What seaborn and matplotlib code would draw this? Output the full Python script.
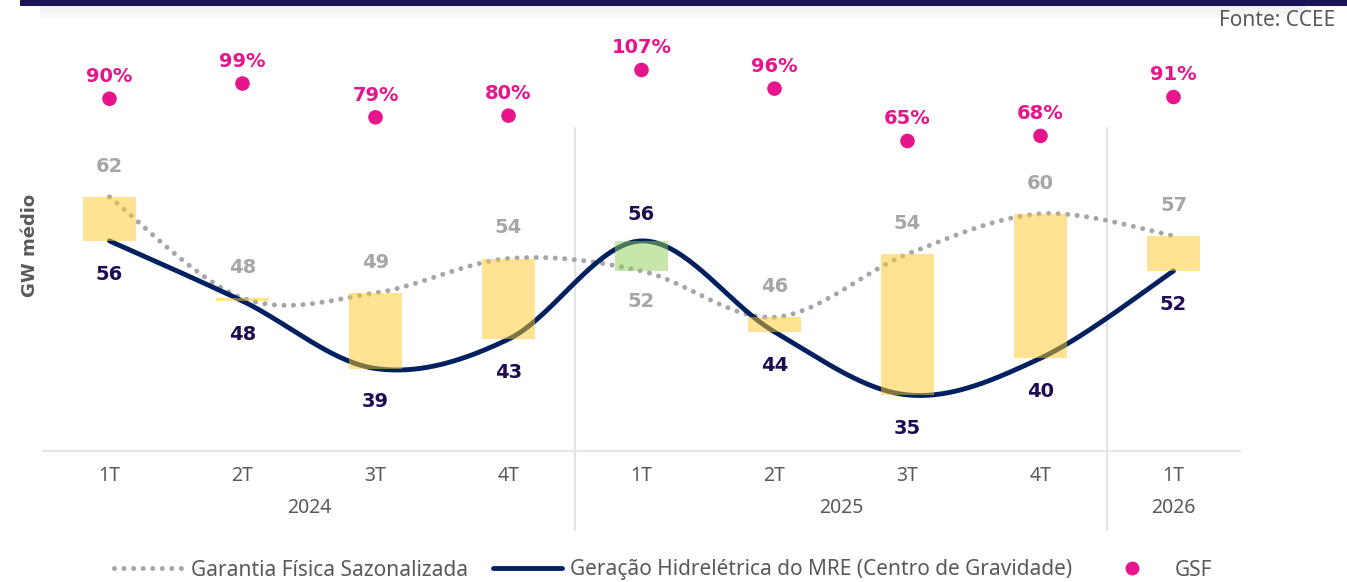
import numpy as np
import pandas as pd
import matplotlib
matplotlib.use("Agg")
import matplotlib.pyplot as plt
import seaborn as sns
from matplotlib.lines import Line2D
from matplotlib.patches import Rectangle
import matplotlib.transforms as mtransforms

# === Données ===
trimestres = ["1T", "2T", "3T", "4T", "1T", "2T", "3T", "4T", "1T"]
anos = ["2024", "2025", "2026"]
garantia = [62.0, 48.2, 48.9, 53.6, 51.9, 45.6, 54.2, 59.7, 56.7]
geracao = [56.0, 47.8, 38.6, 42.6, 56.0, 43.6, 35.0, 40.0, 51.9]
gsf = [90, 99, 79, 80, 107, 96, 65, 68, 91]

df = pd.DataFrame({"x": range(len(trimestres)), "trimestre": trimestres,
                   "garantia": garantia, "geracao": geracao, "gsf": gsf})

CINZA = "#a6a6a6"
AZUL = "#002060"
ROXO = "#1e0b52"
MAGENTA = "#e6158c"
TEXTO = "#595959"


def suaviza(xs, ys, n=40):
    # courbe lissée façon Excel (Catmull-Rom uniforme)
    xs = np.asarray(xs, float)
    ys = np.asarray(ys, float)
    px = np.concatenate([[xs[0]], xs, [xs[-1]]])
    py = np.concatenate([[ys[0]], ys, [ys[-1]]])
    out_x, out_y = [], []
    t = np.linspace(0, 1, n)
    for i in range(1, len(px) - 2):
        for p, out in ((px, out_x), (py, out_y)):
            p0, p1, p2, p3 = p[i - 1], p[i], p[i + 1], p[i + 2]
            c = 0.5 * (2 * p1 + (-p0 + p2) * t + (2 * p0 - 5 * p1 + 4 * p2 - p3) * t ** 2
                       + (-p0 + 3 * p1 - 3 * p2 + p3) * t ** 3)
            out.extend(c)
    return pd.DataFrame({"x": out_x, "y": out_y})


sns.set_theme(style="white")
plt.rcParams["font.family"] = ["Noto Sans", "DejaVu Sans"]

fig = plt.figure(figsize=(13.47, 5.82), dpi=100)
ax = fig.add_axes([43 / 1347, 131 / 582, 1197 / 1347, 411 / 582])

# lignes lissées
cg = suaviza(df["x"], df["garantia"])
cm = suaviza(df["x"], df["geracao"])
sns.lineplot(data=cg, x="x", y="y", ax=ax, color=CINZA, lw=3.6, sort=False,
             linestyle=(0, (0.01, 1.9)), dash_capstyle="round", zorder=2)
sns.lineplot(data=cm, x="x", y="y", ax=ax, color=AZUL, lw=3.5, sort=False, zorder=3,
             solid_capstyle="round")

# barres de différence
for _, r in df.iterrows():
    bas = min(r["garantia"], r["geracao"])
    haut = max(r["garantia"], r["geracao"])
    cor = "#8fce5a" if r["geracao"] > r["garantia"] else "#ffc929"
    ax.bar(r["x"], haut - bas, bottom=bas, width=0.4, color=cor, alpha=0.5,
           lw=0, zorder=4)

# étiquettes
for _, r in df.iterrows():
    acima = r["garantia"] >= r["geracao"]
    ax.annotate(f"{r['garantia']:.0f}", (r["x"], r["garantia"]),
                xytext=(0, 22 if acima else -22), textcoords="offset points",
                ha="center", va="center", color=CINZA, fontsize=14,
                fontweight="bold", family="DejaVu Sans")
    ax.annotate(f"{r['geracao']:.0f}", (r["x"], r["geracao"]),
                xytext=(0, -24 if acima else 19), textcoords="offset points",
                ha="center", va="center", color=ROXO, fontsize=14,
                fontweight="bold", family="DejaVu Sans")

ax.set_xlim(-0.5, 8.5)
ax.set_ylim(27.35, 83.4)

# GSF sur un axe secondaire
ax2 = ax.twinx()
sns.scatterplot(data=df, x="x", y="gsf", ax=ax2, color=MAGENTA, s=110,
                edgecolor="none", zorder=5)
for _, r in df.iterrows():
    ax2.annotate(f"{r['gsf']:.0f}%", (r["x"], r["gsf"]), xytext=(0, 16),
                 textcoords="offset points", ha="center", va="center",
                 color=MAGENTA, fontsize=14, fontweight="bold", family="DejaVu Sans")
ax2.set_ylim(-118.4, 124.75)
ax2.set_xlim(-0.5, 8.5)

for a in (ax, ax2):
    a.set_yticks([])
    a.set_ylabel("")
    a.set_xlabel("")
    for s in ("top", "right", "left"):
        a.spines[s].set_visible(False)
    a.spines["bottom"].set_color("#e6e6e6")
    a.spines["bottom"].set_linewidth(1.5)

ax.set_xticks(range(len(trimestres)))
ax.set_xticklabels(trimestres, color=TEXTO, fontsize=14)
ax.tick_params(axis="x", length=0, pad=11)
ax2.tick_params(axis="x", length=0, labelbottom=False)

trans = mtransforms.blended_transform_factory(ax.transData, ax.transAxes)
for xc, ano in zip([1.5, 5.5, 8], anos):
    ax.text(xc, -0.139, ano, transform=trans, ha="center", va="center",
            color=TEXTO, fontsize=14)
for xs in (3.5, 7.5):
    ax.plot([xs, xs], [-0.192, 0.786], transform=trans, color="#e3e3e3",
            lw=1.5, clip_on=False, zorder=1)

fig.text(30 / 1347, 1 - 245 / 582, "GW médio", rotation=90, ha="center",
         va="center", color=TEXTO, fontsize=13, fontweight="bold",
         family="DejaVu Sans")
fig.text(1335 / 1347, 1 - 20 / 582, "Fonte: CCEE", ha="right", va="center",
         color=TEXTO, fontsize=15)

# bandeau du haut
for k in range(16):
    fig.patches.append(Rectangle((0.03, 1 - (6 + k) / 582), 0.94, 1 / 582,
                                 transform=fig.transFigure, color="#000000",
                                 alpha=0.07 * (1 - k / 16), lw=0))
fig.patches.append(Rectangle((20 / 1347, 1 - 6 / 582), 1, 6 / 582,
                             transform=fig.transFigure, color="#1b1456", lw=0))

# légende
handles = [
    Line2D([], [], color=CINZA, lw=3.6, linestyle=(0, (0.01, 1.9)),
           dash_capstyle="round"),
    Line2D([], [], color=AZUL, lw=3.5, solid_capstyle="round"),
    Line2D([], [], color=MAGENTA, marker="o", markersize=9, lw=0),
]
labels = ["Garantia Física Sazonalizada",
          "Geração Hidrelétrica do MRE (Centro de Gravidade)", "GSF"]
leg = fig.legend(handles, labels, loc="center", bbox_to_anchor=(0.492, 1 - 570 / 582),
                 ncol=3, frameon=False, fontsize=15, handlelength=3.3,
                 columnspacing=1.2, handletextpad=0.4)
for t in leg.get_texts():
    t.set_color(TEXTO)

fig.savefig("out.png", dpi=100)
